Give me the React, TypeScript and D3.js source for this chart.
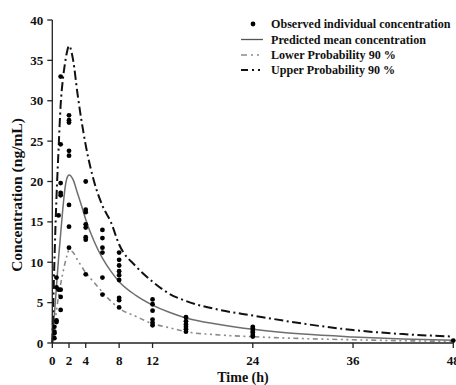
import React from "react";
import * as d3 from "d3";

const xTicks = [0, 2, 4, 8, 12, 24, 36, 48];
const yTicks = [0, 5, 10, 15, 20, 25, 30, 35, 40];

const obsTimes = [
  0.25, 0.25, 0.25, 0.25,
  0.5, 0.5, 0.5, 0.5,
  0.75, 0.75,
  1, 1, 1, 1, 1, 1, 1, 1,
  2, 2, 2, 2, 2, 2, 2, 2,
  4, 4, 4, 4, 4, 4, 4, 4,
  6, 6, 6, 6, 6, 6,
  8, 8, 8, 8, 8, 8, 8, 8, 8,
  12, 12, 12, 12, 12, 12,
  16, 16, 16, 16, 16, 16,
  24, 24, 24, 24, 24, 24,
  48,
];
const obsConc = [
  0.6, 1.2, 2.0, 1.4,
  2.6, 2.8, 6.9, 8.1,
  6.6, 15.8,
  33.0, 24.6, 19.8, 18.6, 18.3, 6.6, 5.7, 4.1,
  28.2, 27.6, 27.3, 23.8, 23.2, 17.1, 14.4, 11.8,
  20.0, 16.5, 16.2, 14.7, 14.3, 13.1, 12.8, 8.5,
  14.0, 13.0, 11.8, 11.2, 8.1, 6.0,
  11.2, 10.3, 9.6, 8.9, 8.4, 7.8, 5.6, 5.3, 4.4,
  5.4, 4.8, 4.0, 2.9, 2.5, 2.2,
  3.2, 2.7, 2.3, 2.0, 1.7, 1.4,
  2.0, 1.8, 1.5, 1.3, 1.0, 0.8,
  0.3,
];

const predTimes = [0, 0.25, 0.5, 0.75, 1, 1.25, 1.5, 1.75, 2, 2.5, 3, 3.5, 4, 5, 6, 7, 8, 10, 12, 14, 16, 20, 24, 30, 36, 42, 48];
const meanConc = [0, 3.5, 7, 10.5, 13.5, 16.5, 19, 20.4, 20.8, 20.2, 18.6, 17, 15.3, 12.6, 10.5, 8.9, 7.6, 5.9, 4.7, 3.8, 3.1, 2.3, 1.7, 1.1, 0.75, 0.5, 0.35];
const lowerConc = [0, 2.0, 4.0, 5.8, 7.3, 8.6, 9.8, 10.8, 11.5, 11.2, 10.3, 9.5, 8.7, 7.5, 6.3, 5.2, 4.3, 3.3, 2.4, 1.9, 1.4, 1.0, 0.78, 0.55, 0.4, 0.28, 0.2];
const upperConc = [0, 10, 18, 24, 29.5, 32.5, 34.5, 36, 36.8, 35, 31, 27.5, 24.5, 20, 17, 15, 12.2, 9.5, 7.6, 6.1, 5.2, 4.1, 3.4, 2.4, 1.6, 1.1, 0.8];

const legendLabels = [
  "Observed individual concentration",
  "Predicted mean concentration",
  "Lower Probability 90 %",
  "Upper Probability 90 %",
];

const W = 456;
const H = 385;
const FONT = "'Liberation Serif', 'Times New Roman', serif";

export default function App() {
  const x = d3.scaleLinear().domain([0, 48]).range([52.3, 453.3]);
  const y = d3.scaleLinear().domain([0, 40]).range([343, 20]);

  const line = (vals: number[]) =>
    d3
      .line<number>()
      .x((_, i) => x(predTimes[i]))
      .y((v) => y(v))
      .curve(d3.curveMonotoneX)(vals) || "";

  const upperDash = "9,3.5,2,3.5";
  const lowerDash = "5,3.5,2,3.5,2,3.5";

  return (
    <svg
      width={W}
      height={H}
      style={{ position: "absolute", left: 0, top: 0, background: "#fff" }}
      fontFamily={FONT}
      fontWeight="bold"
    >
      <rect width={W} height={H} fill="#fff" />
      {/* curves */}
      <path d={line(lowerConc)} fill="none" stroke="#8a8a8a" strokeWidth={1.6} strokeDasharray={lowerDash} />
      <path d={line(meanConc)} fill="none" stroke="#6e6e6e" strokeWidth={1.5} />
      <path d={line(upperConc)} fill="none" stroke="#111" strokeWidth={2} strokeDasharray={upperDash} />
      {/* points */}
      {obsConc.map((c, i) => (
        <circle key={i} cx={x(obsTimes[i])} cy={y(c)} r={2.4} fill="#000" />
      ))}
      {/* y axis */}
      <line x1={x(0)} x2={x(0)} y1={y(40)} y2={y(0)} stroke="#222" strokeWidth={1.3} />
      {yTicks.map((t) => (
        <g key={t}>
          <line x1={x(0) - 5} x2={x(0)} y1={y(t)} y2={y(t)} stroke="#222" strokeWidth={1.3} />
          <text x={x(0) - 9} y={y(t)} dy="0.35em" textAnchor="end" fontSize={13} fill="#111">
            {t}
          </text>
        </g>
      ))}
      {/* x axis */}
      <line x1={x(0)} x2={x(48)} y1={y(0)} y2={y(0)} stroke="#222" strokeWidth={1.3} />
      {xTicks.map((t) => (
        <g key={t}>
          <line x1={x(t)} x2={x(t)} y1={y(0)} y2={y(0) + 5} stroke="#222" strokeWidth={1.3} />
          <text x={x(t)} y={364.5} textAnchor="middle" fontSize={13} fill="#111">
            {t}
          </text>
        </g>
      ))}
      <text x={243} y={381.5} textAnchor="middle" fontSize={14} fill="#111">
        Time (h)
      </text>
      <text
        transform={`translate(22,195) rotate(-90)`}
        textAnchor="middle"
        fontSize={15.5}
        fill="#111"
      >
        Concentration (ng/mL)
      </text>
      {/* legend */}
      <g>
        <circle cx={253} cy={24} r={2.4} fill="#000" />
        <line x1={241} x2={263} y1={39.5} y2={39.5} stroke="#555" strokeWidth={1.3} />
        <line x1={241} x2={263} y1={55} y2={55} stroke="#8a8a8a" strokeWidth={1.6} strokeDasharray="6,4,2,4,2,4" />
        <line x1={241} x2={263} y1={70} y2={70} stroke="#111" strokeWidth={2} strokeDasharray="7,4,2,4,2,4" />
        {legendLabels.map((l, i) => (
          <text key={l} x={271} y={24 + i * 15.3} dy="0.35em" fontSize={12.1} fill="#111">
            {l}
          </text>
        ))}
      </g>
    </svg>
  );
}
